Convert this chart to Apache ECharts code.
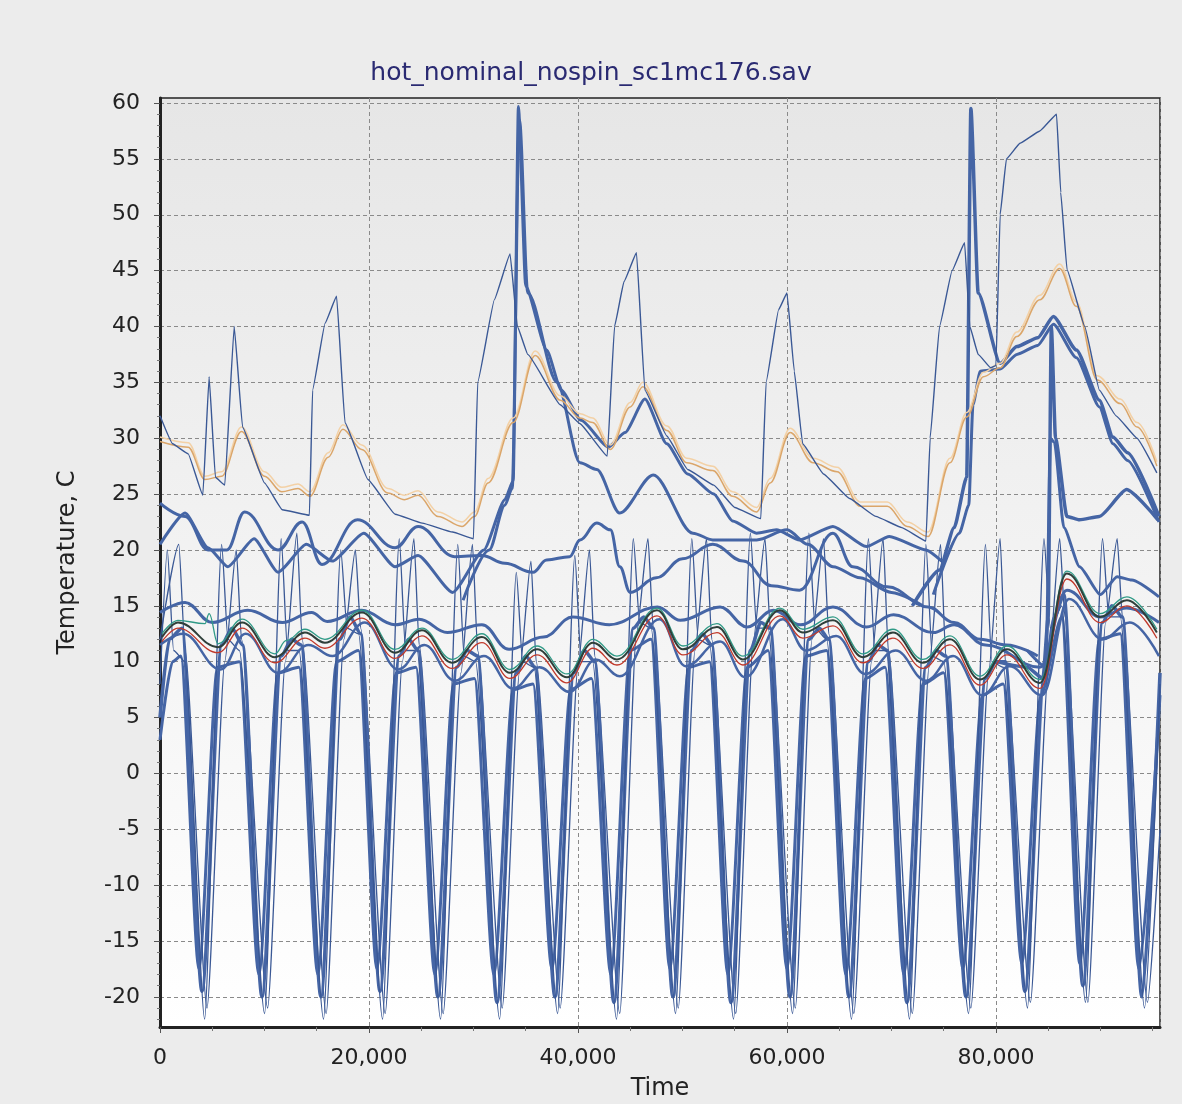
<!DOCTYPE html>
<html>
<head>
<meta charset="utf-8">
<title>hot_nominal_nospin_sc1mc176.sav</title>
<script src="https://cdn.jsdelivr.net/npm/echarts@6/dist/echarts.min.js"></script>
<style>
  html, body { margin: 0; padding: 0; background: #ececec; }
  #chartmain { width: 1182px; height: 1104px; }
</style>
</head>
<body>
<div id="chartmain"></div>
<script>
// time in seconds, temperature in C
var xTicks = [0, 20000, 40000, 60000, 80000];
var yTicks = [-20, -15, -10, -5, 0, 5, 10, 15, 20, 25, 30, 35, 40, 45, 50, 55, 60];

var orangeA = [[0,29.7],[2700,29.2],[4300,26.3],[5900,26.6],[7800,30.6],[10000,26.6],[11650,25.2],[13200,25.5],[14350,24.8],[16100,28.3],[17500,30.8],[19300,29],[21800,25.1],[23400,24.5],[24700,24.9],[26600,23],[28900,22.1],[30100,23],[31400,26],[33800,31.4],[35900,37.4],[38300,33.4],[40200,31.8],[41400,31.4],[43100,29],[45000,32.8],[46200,34.6],[48500,30.7],[50400,27.8],[52900,27.1],[54800,24.8],[57100,23.4],[58400,26],[60300,30.5],[62500,27.8],[64800,27],[67000,23.9],[69600,23.9],[71500,22.1],[73500,21.2],[75600,27.8],[77200,31.9],[78800,35.5],[80400,36.3],[82000,39.1],[84200,42.4],[86100,45.2],[87700,41.8],[89700,35.2],[91900,33.1],[93500,31],[95400,27.5]];
var orangeB = [[0,30.1],[2700,29.6],[4300,26.6],[5900,27],[7800,31],[10000,27],[11650,25.6],[13200,25.9],[14350,25.2],[16100,28.7],[17500,31.2],[19300,29.4],[21800,25.5],[23400,24.9],[24700,25.3],[26600,23.4],[28900,22.5],[30100,23.4],[31400,26.4],[33800,31.8],[35900,37.8],[38300,33.8],[40200,32.2],[41400,31.8],[43100,29.4],[45000,33.2],[46200,35],[48500,31.1],[50400,28.2],[52900,27.5],[54800,25.2],[57100,23.8],[58400,26.4],[60300,30.9],[62500,28.2],[64800,27.4],[67000,24.3],[69600,24.3],[71500,22.5],[73500,21.6],[75600,28.2],[77200,32.3],[78800,35.9],[80400,36.7],[82000,39.5],[84200,42.8],[86100,45.6],[87700,42.2],[89700,35.6],[91900,33.5],[93500,31.4],[95400,27.9]];

var spikyThin = [[0,32],[1200,29.5],[2700,28.6],[4100,24.9],[4700,35.5],[5300,26.5],[6200,25.8],[7100,40],[7900,31],[10000,26],[11700,23.6],[14300,23.1],[14600,34.3],[15800,40.3],[16900,42.7],[17700,31.4],[19900,26.3],[22500,23.2],[25100,22.4],[28000,21.6],[30000,21],[30400,35],[32000,42.4],[33500,46.5],[34200,40],[35200,37.5],[38300,33],[40200,31.3],[42800,28.4],[43500,40],[44400,44],[45600,46.6],[46400,34.3],[48500,30.2],[50500,27.2],[53000,25.8],[55000,23.8],[57500,22.8],[58000,35],[59200,41.5],[60000,43],[60700,36],[61500,29.5],[63500,26.8],[66000,24.6],[68500,23],[71000,22],[73300,20.8],[73700,30],[74600,40],[75800,45],[77000,47.5],[77500,40],[78300,37.5],[79500,36.3],[80000,36.5],[80400,50],[81000,55],[82300,56.4],[84200,57.5],[85800,59],[86200,52],[86800,45.1],[88500,40],[89900,34.3],[91500,32],[93500,30],[95400,26.9]];

var spikeThickA = [[0,20.5],[2400,23.3],[4600,20.2],[6500,18.5],[9000,21],[11300,18],[14000,20.5],[16500,19],[19500,21.5],[22500,18.5],[24700,19.5],[28000,16.2],[31000,20],[33000,24.5],[33800,26.2],[34300,59.7],[35000,43.6],[37000,37.9],[38400,34.3],[40300,31.6],[42900,29.2],[44500,30.5],[46400,33.5],[48500,29.5],[50500,26.8],[53000,25],[54800,22.6],[57100,21.5],[59000,21.8],[61200,20.9],[64400,22.1],[67600,20.3],[69800,21.2],[73300,20],[74800,19]];
var bumpThick = [[29000,15.5],[31500,20],[33000,24],[33700,25.5],[34400,58.5],[35200,43],[38000,35],[40200,27.8],[41800,27.2],[44000,23.3],[47200,26.7],[51000,21.5],[52900,20.9],[57100,20.9],[60000,21.8],[62000,20.5],[64400,18.5],[67000,17.5],[70000,16.2],[73000,15]];
var band20 = [[0,24.2],[2400,23],[4600,20],[6400,20],[8100,23.4],[11300,20],[13600,22.5],[15500,18.7],[18900,22.7],[22500,20.2],[24700,22.1],[28200,19.4],[30800,19.5],[33000,18.8],[35700,18],[37000,19.1],[39200,19.4],[40200,20.9],[41800,22.4],[43100,21.8],[44000,18.5],[45000,16.2],[47500,17.5],[50000,19.2],[52900,20.5],[55800,19],[58500,16.8],[61200,16.4],[64400,21.5],[66300,18.5],[69600,16.7],[73500,14.9],[76000,13.5],[78500,12],[81000,11.5],[84000,10.5]];
var spikeThickB = [[72000,15],[74600,18.2],[76000,22],[77200,26.5],[77600,59.5],[78300,43],[80400,36.7],[82000,38.2],[84000,39],[85500,40.9],[87700,37.9],[89900,33.4],[91200,30.1],[92600,28.7],[95600,23]];
var spikeThickC = [[74000,16],[76500,21.5],[77400,24],[77800,33],[78500,36],[80400,36.2],[82000,37.5],[84000,38.3],[85500,40.2],[87700,37.2],[89900,32.8],[91200,29.5],[92600,28],[95600,22.5]];
var spikeThickD = [[80000,10],[83000,9.5],[84500,8.5],[85000,14],[85300,40],[85700,30],[86800,23],[88000,22.7],[89900,23],[92500,25.4],[95500,22.7]];
var spikeThickE = [[83000,11],[84800,9.5],[85200,30],[85600,29.6],[86500,22],[88000,18.5],[90000,16],[91600,17.6],[93000,17.3],[95600,15.8]];

var band14 = [[0,14.4],[2400,15.3],[5000,13.5],[8400,14.6],[11700,13.5],[14500,14.4],[16000,13.6],[19300,14.6],[22500,13.3],[24800,13.8],[27500,12.6],[30800,13.3],[33400,11.1],[36700,12.2],[39500,14],[43000,13.3],[47600,14.9],[49800,13.7],[53600,14.9],[56200,13.1],[58700,14.6],[61300,13.3],[64400,14.9],[67600,13.1],[70200,14.2],[74000,12.6],[76000,13.3],[79000,11.5],[84200,9.5],[86800,16.4],[90000,14],[92500,14.8],[95600,13.5]];
var band9 = [[0,11.5],[2200,12.5],[5800,9.3],[8200,12.5],[11300,9],[14200,11.5],[16500,10.5],[19600,13.5],[22800,9.3],[25300,11.5],[28200,8.3],[31000,10.5],[33800,7.6],[36300,9.5],[39200,7.3],[41700,10.2],[44000,8.7],[47800,13.8],[50300,9.6],[53600,11.8],[56000,8.6],[59600,13.8],[61800,11],[64700,12.3],[67500,8.9],[70400,11],[73300,8.3],[75900,10.5],[78700,7],[81300,9.6],[84400,7],[87000,15.6],[90200,12],[92800,13.5],[95600,10.5]];

var darkLine = [[190,12.2],[1720,13.5],[5550,11.3],[7850,13.5],[11000,10.4],[13870,12.6],[15780,11.7],[19330,14.4],[22490,10.8],[25070,12.8],[27940,9.9],[30810,12.2],[33490,9],[36080,11.1],[38950,8.6],[41430,11.7],[43730,10.2],[47560,14.6],[50050,11.1],[53300,13.1],[55790,10.2],[59330,14.6],[61530,12.6],[64400,13.7],[67270,10.4],[70140,12.6],[73010,9.9],[75600,12],[78470,8.4],[81050,11.1],[84210,8.1],[86790,17.9],[89950,14],[92530,15.5],[95400,12.6]];
var redLine = [[190,11.8],[1720,13],[5550,10.8],[7850,13],[11000,9.9],[13870,12.1],[15780,11.2],[19330,13.9],[22490,10.3],[25070,12.3],[27940,9.4],[30810,11.7],[33490,8.5],[36080,10.6],[38950,8.1],[41430,11.2],[43730,9.7],[47560,14.1],[50050,10.6],[53300,12.6],[55790,9.7],[59330,14.1],[61530,12.1],[64400,13.2],[67270,9.9],[70140,12.1],[73010,9.4],[75600,11.5],[78470,7.9],[81050,10.6],[84210,7.6],[86790,17.4],[89950,13.5],[92530,15],[95400,12.1]];
var greenLine = [[190,12.5],[1720,13.7],[4300,13.4],[4700,14.3],[5550,11.6],[7850,13.8],[11000,10.7],[12100,11.9],[13870,12.9],[15780,12],[19330,14.6],[22490,11.1],[25070,13],[27940,10.2],[30810,12.5],[33490,9.3],[36080,11.4],[38950,8.9],[41430,12],[43730,10.5],[47560,14.8],[50050,11.4],[53300,13.4],[55790,10.5],[59330,14.8],[61530,12.9],[64400,14],[67270,10.7],[70140,12.9],[73010,10.2],[75600,12.3],[78470,8.7],[81050,11.4],[84210,8.4],[86790,18.1],[89950,14.3],[92530,15.8],[95400,12.9]];

var deepThickA = [[0,5],[900,12],[2100,13],[4020,-19.5],[5900,11.5],[6900,13],[7900,11.5],[9760,-20],[11600,10.5],[12600,12],[13500,11.5],[15400,-20],[17200,12],[18200,14],[19200,12.5],[21050,-19.5],[22900,10.5],[23800,12],[24700,11],[26600,-20],[28400,9.5],[29400,11],[30400,10.5],[32250,-20.5],[34100,9],[35000,10.5],[35900,9.5],[37800,-20],[39600,9],[40600,11],[41600,10],[43440,-20.5],[45300,13],[46300,14],[47200,13],[49090,-20],[50900,11],[51900,12.5],[52800,11.5],[54640,-20.5],[56500,11],[57500,13.5],[58400,13],[60290,-20],[62100,12],[63100,13],[64000,12],[65930,-20],[67800,10],[68700,11.5],[69600,11],[71480,-20.5],[73300,9.5],[74300,11],[75200,10.5],[77130,-20],[79000,8.5],[80000,10],[80900,10],[82770,-19.5],[84600,8.5],[85600,14],[86500,16],[88320,-19],[90200,13.5],[91100,15],[92100,14],[93970,-20],[95700,9]];
var deepThickB = [[0,3],[1200,10],[2000,10.5],[3720,-17.5],[5500,9.5],[7600,10],[9460,-18],[11300,9],[13300,9.5],[15100,-18],[16900,10],[19000,11],[20750,-17.5],[22600,9],[24500,9.5],[26300,-18],[28100,8],[30100,8.5],[31950,-18],[33800,7.5],[35700,8],[37500,-17.5],[39300,7.5],[41300,8.5],[43140,-18],[45000,11],[47000,12],[48790,-17.5],[50600,9.5],[52600,10],[54340,-18],[56200,9.5],[58200,11],[59990,-17.5],[61800,10.5],[63800,11],[65630,-18],[67500,8.5],[69400,9.5],[71180,-18],[73000,8],[75000,9],[76830,-17.5],[78700,7],[80700,8],[82470,-17],[84300,7],[86300,14],[88020,-17],[89900,12],[91900,12.5],[93670,-17.5],[95700,7]];
var deepThinA = [[0,8],[700,20],[1300,11],[2400,10],[4270,-22],[5900,20.5],[6500,12],[7600,11],[10010,-21.5],[11600,21],[12200,11],[13300,11],[15650,-22],[17300,20],[17900,13],[19000,12.5],[21300,-22],[22900,21],[23500,11],[24600,11],[26850,-22],[28500,20.5],[29100,10.5],[30200,10],[32500,-22],[34100,18],[34700,10],[35800,9.5],[38050,-21.5],[39700,19.5],[40300,10],[41400,10],[43690,-22],[45300,21],[45900,13.5],[47000,13],[49340,-21.5],[50900,21],[51500,12],[52600,11.5],[54890,-22],[56500,21.5],[57100,13],[58200,13],[60540,-21.5],[62100,21.5],[62700,13],[63800,12],[66180,-22],[67800,21],[68400,11],[69500,11],[71730,-22],[73300,20.5],[73900,10.5],[75000,10],[77380,-21.5],[79000,20.5],[79600,10],[80700,9.5],[83020,-21],[84600,21],[85200,13],[86300,15],[88570,-20.5],[90200,21],[90800,14],[91900,14],[94220,-21],[95700,8]];
var deepThinB = [[0,12],[1800,20.5],[2400,11],[4500,-21],[6200,10],[7300,20],[7800,12],[10300,-21],[12000,10],[13100,21.5],[13600,12],[15900,-21.5],[17600,12],[18700,20],[19200,13],[21550,-21.5],[23200,10],[24300,21],[24800,11.5],[27100,-21.5],[28800,9],[29900,20.5],[30400,11],[32750,-21],[34400,9],[35500,19],[36000,10],[38300,-21],[40000,9.5],[41100,20],[41600,10.5],[44000,-21.5],[45600,12.5],[46700,21],[47200,13],[49600,-21],[51200,11],[52300,21],[52800,12],[55100,-21.5],[56800,12],[57900,21],[58400,13],[60800,-21],[62400,12],[63500,21],[64000,12.5],[66400,-21.5],[68100,10],[69200,21],[69700,11],[72000,-21.5],[73600,9.5],[74700,20.5],[75200,10.5],[77600,-21],[79300,9],[80400,21],[80900,10],[83300,-20.5],[85000,9],[86100,21],[86600,14],[88800,-20.5],[90500,13.5],[91600,21],[92100,14],[94500,-20.5],[95700,-5]];

var BLUE = '#4565a5';
var BLUE_DARK = '#3a5895';

function line(name, data, color, width, smooth) {
    return {
        name: name,
        type: 'line',
        data: data,
        xAxisIndex: 0,
        yAxisIndex: 0,
        showSymbol: false,
        symbol: 'none',
        smooth: smooth || false,
        smoothMonotone: 'x',
        animation: false,
        silent: true,
        lineStyle: { color: color, width: width },
        itemStyle: { color: color }
    };
}

var minorY = [];
for (var v = -22; v <= 60; v++) { if (v % 5 !== 0) minorY.push(v); }
var minorX = [];
for (var t = 5000; t <= 95000; t += 5000) { if (t % 20000 !== 0) minorX.push(t); }

var FONT = 'DejaVu Sans';

window.onload = function () {
    var chart = echarts.init(document.getElementById('chartmain'), null, {
        renderer: 'canvas',
        width: 1182,
        height: 1104
    });
    var option = {
        backgroundColor: '#ececec',
        animation: false,
        title: {
            text: 'hot_nominal_nospin_sc1mc176.sav',
            left: 'center',
            top: 56,
            textStyle: { fontFamily: FONT, fontSize: 25, fontWeight: 'normal', color: '#2a2a72' }
        },
        grid: {
            left: 160, top: 98, width: 1000, height: 929,
            outerBoundsMode: 'none',
            containLabel: false,
            show: true,
            borderColor: '#222',
            borderWidth: 1.5,
            backgroundColor: {
                type: 'linear', x: 0, y: 0, x2: 0, y2: 1,
                colorStops: [{ offset: 0, color: '#e6e6e6' }, { offset: 1, color: '#ffffff' }]
            }
        },
        xAxis: [{
            type: 'value',
            min: 0, max: 95700, interval: 20000,
            name: 'Time',
            nameLocation: 'middle',
            nameGap: 50,
            nameTextStyle: { fontFamily: FONT, fontSize: 24, color: '#222' },
            axisLine: { show: true, onZero: false, lineStyle: { color: '#222', width: 3 } },
            axisTick: { show: true, length: 6, lineStyle: { color: '#555' } },
            axisLabel: {
                fontFamily: FONT, fontSize: 22, color: '#222', margin: 20,
                showMaxLabel: false,
                formatter: function (v) { return v.toLocaleString('en-US'); }
            },
            splitLine: { show: true, lineStyle: { color: '#8a8a8a', type: [4, 3], width: 1 } }
        }, {
            type: 'value',
            min: 0, max: 95700,
            position: 'bottom',
            axisLine: { show: false, onZero: false },
            axisTick: { show: true, length: 4, customValues: minorX, lineStyle: { color: '#777' } },
            axisLabel: { show: false },
            splitLine: { show: false }
        }],
        yAxis: [{
            type: 'value',
            min: -22.7, max: 60.45,
            name: 'Temperature, C',
            nameLocation: 'middle',
            nameGap: 80,
            nameTextStyle: { fontFamily: FONT, fontSize: 24, color: '#222' },
            axisLine: { show: true, onZero: false, lineStyle: { color: '#222', width: 3 } },
            axisTick: { show: true, length: 6, customValues: yTicks, lineStyle: { color: '#555' } },
            axisLabel: { fontFamily: FONT, fontSize: 22, color: '#222', margin: 20, customValues: yTicks },
            splitLine: { show: true, lineStyle: { color: '#8a8a8a', type: [4, 3], width: 1 } }
        }, {
            type: 'value',
            min: -22.7, max: 60.45,
            position: 'left',
            axisLine: { show: false, onZero: false },
            axisTick: { show: true, length: 3, customValues: minorY, lineStyle: { color: '#777' } },
            axisLabel: { show: false },
            splitLine: { show: false }
        }],
        series: [
            line('deepThickB', deepThickB, BLUE, 3, 0.25),
            line('deepThinB', deepThinB, BLUE_DARK, 1.3, 0.2),
            line('deepThickA', deepThickA, BLUE, 3.5, 0.25),
            line('deepThinA', deepThinA, BLUE_DARK, 1.3, 0.2),
            line('band9', band9, BLUE, 2.5, 0.4),
            line('band14', band14, BLUE, 3, 0.4),
            line('band20', band20, BLUE, 3, 0.4),
            line('bumpThick', bumpThick, BLUE, 3, 0.3),
            line('spikeThickA', spikeThickA, BLUE, 3, 0.2),
            line('spikeThickB', spikeThickB, BLUE, 3.5, 0.2),
            line('spikeThickC', spikeThickC, BLUE, 3, 0.2),
            line('spikeThickD', spikeThickD, BLUE, 3.5, 0.2),
            line('spikeThickE', spikeThickE, BLUE, 3, 0.2),
            line('greenLine', greenLine, '#2f9a86', 1.3, 0.4),
            line('redLine', redLine, '#c0392b', 1.3, 0.4),
            line('darkLine', darkLine, '#2f3f3a', 2, 0.4),
            line('orangeB', orangeB, '#f3d1a6', 1.5, 0.35),
            line('orangeA', orangeA, '#dba66a', 1.5, 0.35),
            line('spikyThin', spikyThin, BLUE_DARK, 1.4, 0.1)
        ]
    };
    chart.setOption(option);
};
</script>
</body>
</html>
